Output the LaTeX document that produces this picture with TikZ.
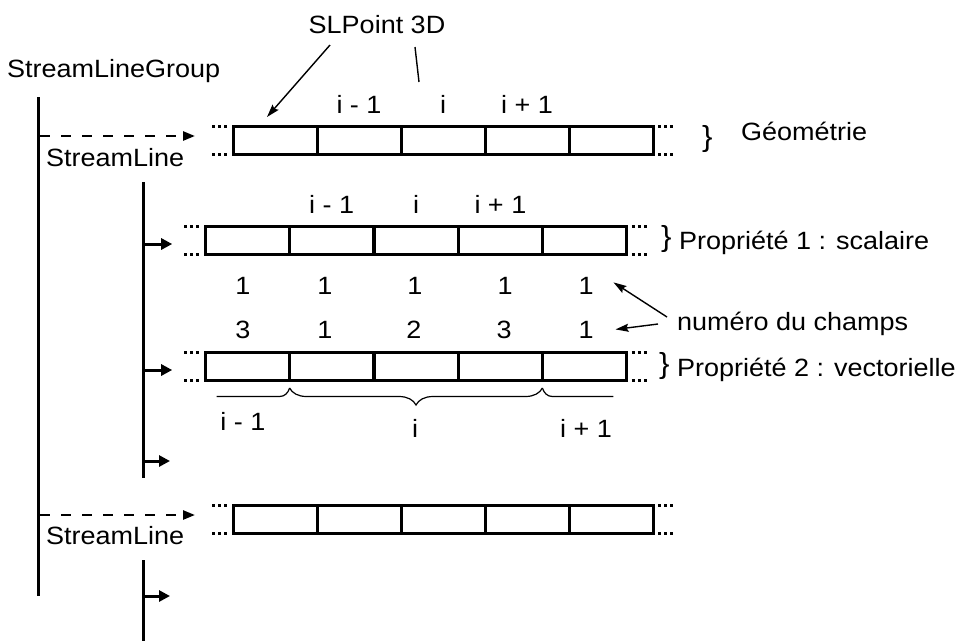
\documentclass[tikz,border=0pt]{standalone}
\usepackage{fontspec}
\setmainfont{Liberation Sans}[FakeStretch=1.08]
\usetikzlibrary{arrows.meta,decorations.pathreplacing}
\newcommand\slfont{\fontsize{25}{30}\selectfont}
\newcommand\slbrfont{\fontsize{29}{34}\selectfont}
\tikzset{
  slcell/.style={draw=black, line width=3pt, minimum width=84pt, minimum height=28pt,
    inner sep=0pt, outer sep=0pt},
  sldots/.style={line width=3pt, dash pattern=on 3pt off 3pt},
  sltext/.style={inner sep=0pt, outer sep=0pt, font=\slfont, anchor=base},
  slleft/.style={sltext, anchor=base west},
  slbrace/.style={inner sep=0pt, outer sep=0pt, font=\slbrfont, anchor=base west},
  slline/.style={line width=3pt},
  slarrow/.style={line width=3pt, -{Triangle[length=11pt,width=11pt]}},
  sldash/.style={line width=2.5pt, dash pattern=on 10pt off 11pt, -{Triangle[length=12pt,width=9pt]}},
  slthin/.style={line width=1.4pt, -{Stealth[length=13pt,width=8pt,inset=2pt]}},
  slcurly/.style={line width=1.2pt}
}
\begin{document}
\begin{tikzpicture}[x=1pt,y=-1pt]
  \useasboundingbox (0,0) rectangle (957,641);
  % the four arrays of cells
  \foreach \k in {1,...,5} {
    \node[slcell] (geo\k) at ({233+84*(\k-0.5)},140) {};
    \node[slcell] (pa\k) at ({205+84.4*(\k-0.5)},240) {};
    \node[slcell] (pb\k) at ({205+84.4*(\k-0.5)},366) {};
    \node[slcell] (geob\k) at ({233+84*(\k-0.5)},519) {};
  }
  \foreach \arr in {geo,pa,pb,geob} {
    \draw[sldots] ([xshift=-21pt]\arr1.north west) -- ([xshift=-4pt]\arr1.north west);
    \draw[sldots] ([xshift=-21pt]\arr1.south west) -- ([xshift=-4pt]\arr1.south west);
    \draw[sldots] ([xshift=5pt]\arr5.north east) -- ([xshift=22pt]\arr5.north east);
    \draw[sldots] ([xshift=5pt]\arr5.south east) -- ([xshift=22pt]\arr5.south east);
  }

  % tree on the left
  \node[slleft] (grp) at (7,77) {StreamLineGroup};
  \node[slleft] (sl1) at (46,166) {StreamLine};
  \node[slleft] (sl2) at (46,544) {StreamLine};
  \coordinate (grptop) at (38,97);
  \coordinate (grpbot) at (38,596);
  \coordinate (grpa) at (40,136);
  \coordinate (grpb) at (40,515);
  \draw[slline] (grptop) -- (grpbot);
  \draw[sldash] (grpa) -- ([xshift=-38pt,yshift=4pt]geo1.west);
  \draw[sldash] (grpb) -- ([xshift=-38pt,yshift=4pt]geob1.west);
  \coordinate (sla) at (143,182);
  \coordinate (slaend) at (143,478);
  \coordinate (slb) at (143,560);
  \coordinate (slbend) at (143,641);
  \draw[slline] (sla) -- (slaend);
  \draw[slline] (slb) -- (slbend);
  \coordinate (spa) at (143,244);
  \coordinate (spb) at (143,370);
  \coordinate (spc) at (143,461);
  \coordinate (spcend) at (170,461);
  \coordinate (spd) at (143,596);
  \coordinate (spdend) at (170,596);
  \draw[slarrow] (spa) -- ([xshift=-33pt,yshift=-4pt]pa1.west);
  \draw[slarrow] (spb) -- ([xshift=-33pt,yshift=-4pt]pb1.west);
  \draw[slarrow] (spc) -- (spcend);
  \draw[slarrow] (spd) -- (spdend);

  % geometry
  \node[sltext] (slpt) at (377,33) {SLPoint 3D};
  \coordinate (slptend) at (419,82);
  \draw[slthin] ([xshift=-47pt,yshift=-12pt]slpt.base) -- ([xshift=-8pt,yshift=9pt]geo1.north);
  \draw[line width=1.4pt] ([xshift=38pt,yshift=-14pt]slpt.base) -- (slptend);
  \node[sltext] (gl1) at ([yshift=13pt]geo2.north) {i - 1};
  \node[sltext] (gl2) at ([yshift=13pt]geo3.north) {i};
  \node[sltext] (gl3) at ([yshift=13pt]geo4.north) {i + 1};
  \node[slbrace] (bgeo) at (702,146) {\}};
  \node[slleft] (geom) at (741,140) {Géométrie};

  % properties
  \node[sltext] (pl1) at ([yshift=13pt]pa2.north) {i - 1};
  \node[sltext] (pl2) at ([yshift=13pt]pa3.north) {i};
  \node[sltext] (pl3) at ([yshift=13pt]pa4.north) {i + 1};
  \node[slbrace] (bpa) at (661,246) {\}};
  \node[slleft] (propa) at (679,249) {Propriété 1 : scalaire};
  \node[slbrace] (bpb) at (659,373) {\}};
  \node[slleft] (propb) at (677,376) {Propriété 2 : vectorielle};
  \foreach \x/\n [count=\k] in {243/1,325/1,415/1,505/1,586/1}
    \node[sltext] (fa\k) at (\x,294) {\n};
  \foreach \x/\n [count=\k] in {243/3,325/1,414/2,504/3,586/1}
    \node[sltext] (fb\k) at (\x,338) {\n};
  \node[slleft] (champs) at (677,330) {numéro du champs};
  \draw[slthin] ([xshift=-10pt,yshift=13pt]champs.base west) -- ([xshift=20pt,yshift=3pt]fa5.east);
  \draw[slthin] ([xshift=-19pt,yshift=6pt]champs.base west) -- ([xshift=22pt]fb5.east);

  % braces under the vector property
  \coordinate (cl) at ([yshift=-8pt]pb2.south west);
  \coordinate (cr) at ([yshift=-8pt]pb4.south east);
  \draw[slcurly, decorate, decoration={brace, mirror, amplitude=17pt}] (cl) -- (cr);
  \draw[slcurly] (cl) .. controls +(-1.5,5) and +(5,0) .. ++(-10,8.5) -- ++(-63,0);
  \draw[slcurly] (cr) .. controls +(1.5,5) and +(-5,0) .. ++(10,8.5) -- ++(61,0);
  \node[sltext] (bl1) at (243,430) {i - 1};
  \node[sltext] (bl2) at (415,437) {i};
  \node[sltext] (bl3) at (586,437) {i + 1};
\end{tikzpicture}
\end{document}
